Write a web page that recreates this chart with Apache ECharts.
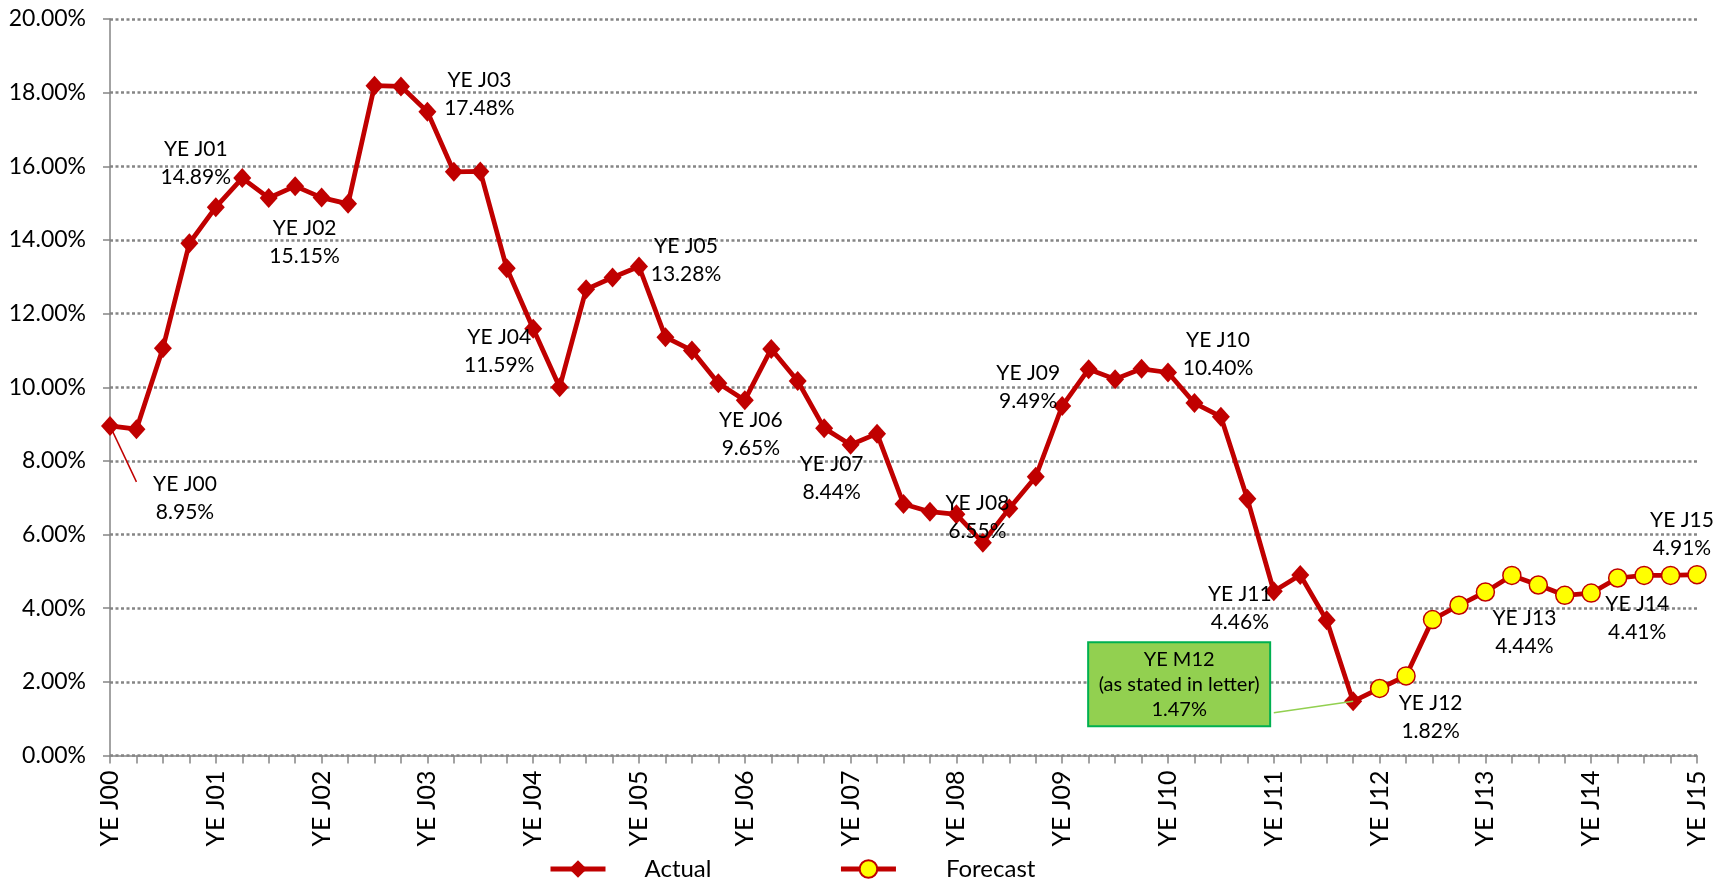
<!DOCTYPE html>
<html>
<head>
<meta charset="utf-8">
<script src="https://cdn.jsdelivr.net/npm/echarts@6/dist/echarts.min.js"></script>
<style>
html,body{margin:0;padding:0;background:#fff;}
#c{width:1730px;height:884px;}
</style>
</head>
<body>
<div id="c"></div>
<script>
// ---- data ----
var yearLabels = ['YE J00','YE J01','YE J02','YE J03','YE J04','YE J05','YE J06','YE J07',
                  'YE J08','YE J09','YE J10','YE J11','YE J12','YE J13','YE J14','YE J15'];
var actualValues = [8.95, 8.86, 11.06, 13.91, 14.89, 15.68, 15.14, 15.46, 15.15, 14.98,
                    18.19, 18.17, 17.48, 15.85, 15.86, 13.23, 11.59, 10.00, 12.66, 12.98,
                    13.28, 11.36, 11.00, 10.11, 9.65, 11.04, 10.17, 8.89, 8.44, 8.74,
                    6.83, 6.62, 6.55, 5.78, 6.71, 7.57, 9.49, 10.49, 10.22, 10.50,
                    10.40, 9.57, 9.20, 6.97, 4.46, 4.90, 3.67, 1.47];
var forecastValues = [1.82, 2.16, 3.69, 4.08, 4.44, 4.89, 4.63, 4.35, 4.41, 4.82, 4.89, 4.89, 4.91];
var labelledPoints = [0, 4, 8, 12, 16, 20, 24, 28, 32, 36, 40, 44, 48, 52, 56, 60];
var letterIndex = 47;
var letterText = ['YE M12', '(as stated in letter)', '1.47%'];
var seriesNames = ['Actual', 'Forecast'];
var yTicks = {min: 0, max: 20, interval: 2};

// ---- build categories (quarterly, year-end labels every 4th) ----
var categories = [];
yearLabels.forEach(function (y, i) {
  categories.push(y);
  if (i < yearLabels.length - 1) {
    for (var q = 1; q <= 3; q++) categories.push(y + ' +' + q + 'Q');
  }
});

// label offsets (style)
var labelOffsets = {
  0: [75, 72], 4: [-20, -44], 8: [-17, 45], 12: [52, -18], 16: [-34, 23],
  20: [47, -6], 24: [6, 34], 28: [-19, 34], 32: [21, 3], 36: [-34, -19],
  40: [50, -18], 44: [-34, 17], 48: [51, 29], 52: [39, 40], 56: [46, 25], 60: [-15, -40]
};
var FONT = 'Lato';
var RED = '#C00000';
var GRID_GREY = '#858585';

function pointLabel(idx) {
  return {
    show: true,
    position: 'inside',
    offset: labelOffsets[idx],
    formatter: function (p) { return p.name + '\n' + Number(p.value).toFixed(2) + '%'; },
    color: '#000',
    fontFamily: FONT,
    fontSize: 21,
    lineHeight: 28,
    align: 'center'
  };
}

var actualData = categories.map(function (c, i) {
  if (i >= actualValues.length) return null;
  var v = actualValues[i];
  if (labelledPoints.indexOf(i) >= 0) return {value: v, label: pointLabel(i)};
  if (i === letterIndex) {
    return {
      value: v,
      label: {
        show: true, position: 'inside', offset: [-174, -17],
        formatter: letterText.join('\n'),
        color: '#000', fontFamily: FONT, fontSize: 20, lineHeight: 25,
        align: 'center', width: 166,
        backgroundColor: '#92D050', borderColor: '#00B050', borderWidth: 2,
        padding: [4, 7, 3, 7]
      }
    };
  }
  return v;
});

var fStart = actualValues.length;
var forecastData = categories.map(function (c, i) {
  if (i === fStart - 1) return {value: actualValues[i], symbol: 'none'};
  if (i < fStart) return null;
  var v = forecastValues[i - fStart];
  if (labelledPoints.indexOf(i) >= 0) return {value: v, label: pointLabel(i)};
  return v;
});

var chart = echarts.init(document.getElementById('c'));
chart.setOption({
  animation: false,
  backgroundColor: '#fff',
  textStyle: {fontFamily: FONT},
  grid: {left: 110, right: 33, top: 19, bottom: 128.5, containLabel: false},
  legend: {
    data: seriesNames,
    left: 548, top: 857, padding: 0,
    itemWidth: 55, itemHeight: 22, itemGap: 127,
    lineStyle: {width: 5},
    formatter: function (n) { return (n === seriesNames[0] ? '{a|' : '{b|') + n + '}'; },
    textStyle: {
      fontFamily: FONT, fontSize: 24, color: '#000',
      rich: {
        a: {fontFamily: FONT, fontSize: 24, color: '#000', padding: [0, 0, 0, 34]},
        b: {fontFamily: FONT, fontSize: 24, color: '#000', padding: [0, 0, 0, 45]}
      }
    }
  },
  xAxis: {
    type: 'category',
    data: categories,
    boundaryGap: false,
    axisLine: {lineStyle: {color: GRID_GREY, width: 1.5}},
    axisTick: {show: true, interval: 0, length: 8, lineStyle: {color: GRID_GREY, width: 1.5}},
    axisLabel: {
      interval: 3, rotate: 90, margin: 15,
      fontFamily: FONT, fontSize: 25, color: '#000'
    },
    splitLine: {show: false}
  },
  yAxis: {
    type: 'value',
    min: yTicks.min, max: yTicks.max, interval: yTicks.interval,
    axisLine: {show: true, lineStyle: {color: GRID_GREY, width: 1.5}},
    axisTick: {show: true, length: 7, lineStyle: {color: GRID_GREY, width: 1.5}},
    axisLabel: {
      margin: 24, fontFamily: FONT, fontSize: 23, color: '#000',
      formatter: function (v) { return v.toFixed(2) + '%'; }
    },
    splitLine: {show: true, lineStyle: {color: GRID_GREY, width: 2.5, type: [3, 2.5]}}
  },
  series: [
    {
      name: seriesNames[0],
      type: 'line',
      data: actualData,
      symbol: 'diamond',
      symbolSize: [18, 20],
      showAllSymbol: true,
      lineStyle: {color: RED, width: 4.75},
      itemStyle: {color: RED},
      z: 3,
      markLine: {
        silent: true,
        symbol: ['none', 'none'],
        label: {show: false},
        data: [
          [{coord: [0, actualValues[0]], lineStyle: {color: RED, width: 1.5, type: 'solid'}},
           {coord: [1.25, 7.43]}],
          [{coord: [44, 1.16], lineStyle: {color: '#92D050', width: 1.5, type: 'solid'}},
           {coord: [letterIndex, actualValues[letterIndex]]}]
        ]
      }
    },
    {
      name: seriesNames[1],
      type: 'line',
      data: forecastData,
      symbol: 'circle',
      symbolSize: 18,
      showAllSymbol: true,
      lineStyle: {color: RED, width: 4.75},
      itemStyle: {color: '#FFFF00', borderColor: RED, borderWidth: 1.5},
      z: 4
    }
  ]
});
</script>
</body>
</html>
